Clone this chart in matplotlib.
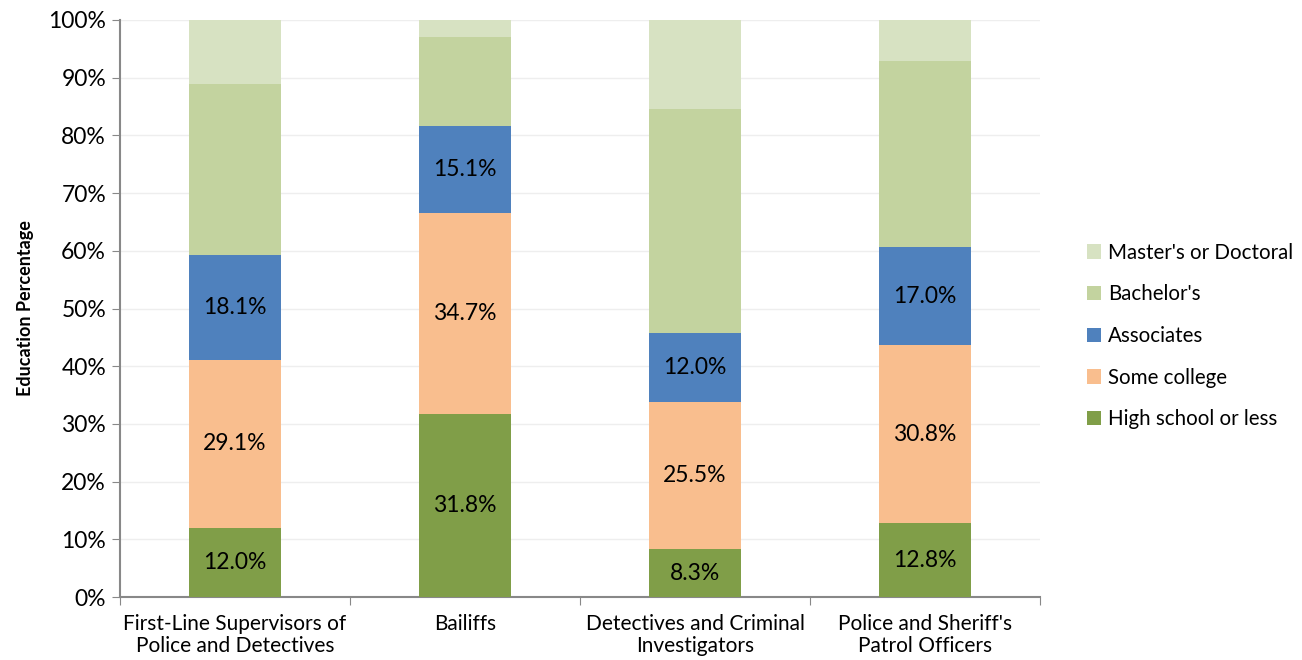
import matplotlib
matplotlib.use("Agg")
import matplotlib.pyplot as plt
import numpy as np

plt.rcParams['font.family'] = ['Lato', 'DejaVu Sans']

jobs = ["First-Line Supervisors of\nPolice and Detectives", "Bailiffs",
        "Detectives and Criminal\nInvestigators", "Police and Sheriff's\nPatrol Officers"]
high_school = [12.0, 31.8, 8.3, 12.8]
some_college = [29.1, 34.7, 25.5, 30.8]
associates = [18.1, 15.1, 12.0, 17.0]
bachelors = [29.7, 15.5, 38.8, 32.3]
masters = [11.1, 2.9, 15.4, 7.1]

series = [
    ("High school or less", high_school, "#809E48", True),
    ("Some college", some_college, "#F9BE8E", True),
    ("Associates", associates, "#4F81BD", True),
    ("Bachelor's", bachelors, "#C3D39F", False),
    ("Master's or Doctoral", masters, "#D7E2C2", False),
]

fig = plt.figure(figsize=(13.02, 6.6), dpi=100)
ax = fig.add_axes([120/1302, 1-597/660, 920/1302, 577/660])

x = np.arange(len(jobs))
bottom = np.zeros(len(jobs))
handles = []
for name, vals, col, show in series:
    vals = np.array(vals)
    b = ax.bar(x, vals, 0.4, bottom=bottom, color=col, label=name, zorder=3)
    handles.append(b)
    if show:
        for xi, v, bt in zip(x, vals, bottom):
            ax.text(xi, bt + v/2, f"{v:.1f}%", ha='center', va='center', fontsize=16.5, zorder=4)
    bottom += vals

ax.set_xlim(-0.5, 3.5)
ax.set_ylim(0, 100)
ax.set_yticks(np.arange(0, 101, 10))
ax.set_yticklabels([f"{v}%" for v in range(0, 101, 10)], fontsize=16.5)
ax.set_xticks(np.arange(-0.5, 4, 1))
ax.set_xticklabels([])
ax.set_xticks(x, minor=True)
ax.set_xticklabels(jobs, minor=True, fontsize=15, linespacing=1.15)
ax.tick_params(axis='x', which='minor', length=0, pad=12)
ax.tick_params(axis='x', which='major', length=6, color='#888888')
ax.tick_params(axis='y', length=6, color='#888888', pad=4)
ax.grid(axis='y', color='#EEEEEE', linewidth=1, zorder=0)
for s in ['top', 'right']:
    ax.spines[s].set_visible(False)
for s in ['left', 'bottom']:
    ax.spines[s].set_color('#888888')
    ax.spines[s].set_linewidth(1.5)
ax.set_ylabel("Education Percentage", fontsize=13, fontweight='bold', labelpad=10)

fig.legend(handles[::-1], [h.get_label() for h in handles[::-1]],
           loc='center left', bbox_to_anchor=(1068/1302, 1-336/660), frameon=False,
           fontsize=14.8, handlelength=0.7, handleheight=0.7, labelspacing=1.05, handletextpad=0.35)

fig.savefig("out.png", dpi=100)
